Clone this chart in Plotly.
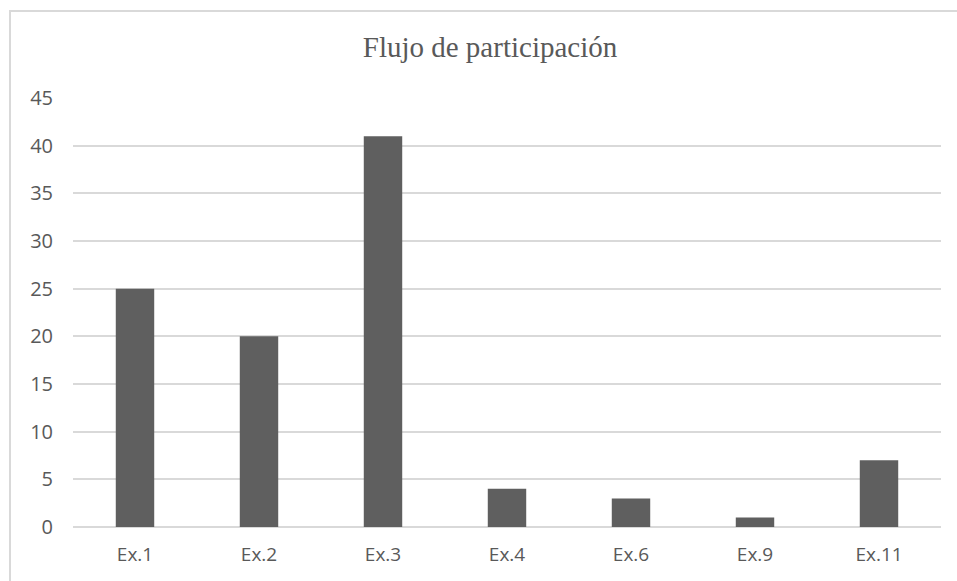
import plotly.graph_objects as go

categories = ["Ex.1", "Ex.2", "Ex.3", "Ex.4", "Ex.6", "Ex.9", "Ex.11"]
values = [25, 20, 41, 4, 3, 1, 7]
y_ticks = [0, 5, 10, 15, 20, 25, 30, 35, 40, 45]

fig = go.Figure(go.Bar(x=categories, y=values, marker=dict(color="#5f5f5f", line=dict(width=0))))

L, R, T, B = 73, 16, 98, 54
W, H = 957, 581
pw, ph = W - L - R, H - T - B

def px(x):
    return (x - L) / pw

def py(y):
    return (H - B - y) / ph

fig.update_layout(
    width=W, height=H,
    margin=dict(l=L, r=R, t=T, b=B),
    paper_bgcolor="white", plot_bgcolor="white",
    bargap=0.69,
    showlegend=False,
    title=dict(text="Flujo de participación", x=px(490), xref="paper", xanchor="center",
               y=1 - 47 / H, yanchor="middle",
               font=dict(family="Liberation Serif", size=29, color="#595959")),
    xaxis=dict(showgrid=False, showline=False, ticks="", ticklabelstandoff=14,
               tickfont=dict(family="Open Sans", size=19, color="#595959")),
    yaxis=dict(range=[0, 45], tickvals=y_ticks, showgrid=True, gridcolor="#d9d9d9", gridwidth=1.5,
               zeroline=True, zerolinecolor="#d9d9d9", zerolinewidth=1.5, showline=False, ticks="",
               ticklabelstandoff=19,
               tickfont=dict(family="Open Sans", size=20, color="#595959")),
    shapes=[dict(type="rect", xref="paper", yref="paper",
                 x0=px(10), x1=px(980), y0=py(600), y1=py(11),
                 line=dict(color="#d9d9d9", width=2), fillcolor="rgba(0,0,0,0)", layer="below")],
)

fig.write_html("out.html")
